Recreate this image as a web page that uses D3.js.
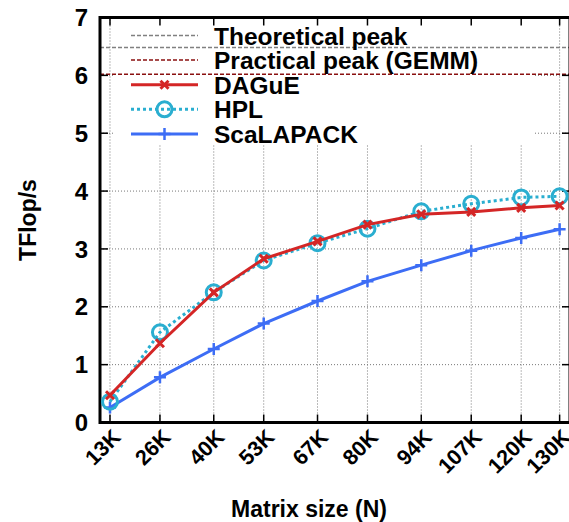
<!DOCTYPE html>
<html>
<head>
<meta charset="utf-8">
<script src="https://cdn.jsdelivr.net/npm/d3@7"></script>
<style>
  html, body { margin: 0; padding: 0; background: #fff; }
  svg { display: block; }
  text { font-family: "Liberation Sans", Arial, Helvetica, sans-serif; font-weight: bold; fill: #000; }
</style>
</head>
<body>
<svg id="chart" width="569" height="522"></svg>
<script>
// Matrix sizes (thousands) and their tick labels
const sizes = [13, 26, 40, 53, 67, 80, 94, 107, 120, 130];
const sizeLabels = ["13K", "26K", "40K", "53K", "67K", "80K", "94K", "107K", "120K", "130K"];

// Performance in TFlop/s
const dague     = [0.47, 1.37, 2.25, 2.83, 3.13, 3.42, 3.60, 3.64, 3.71, 3.75];
const hpl       = [0.36, 1.56, 2.25, 2.80, 3.10, 3.35, 3.65, 3.78, 3.89, 3.91];
const scalapack = [0.26, 0.78, 1.27, 1.71, 2.10, 2.44, 2.72, 2.97, 3.19, 3.34];

// Reference peaks (TFlop/s)
const theoreticalPeak = 6.48;
const practicalPeak = 6.02;

const yTicks = [0, 1, 2, 3, 4, 5, 6, 7];

const svg = d3.select("#chart");
const plotLeft = 100, plotRight = 570, plotTop = 17.5, plotBottom = 422.5;

const x = d3.scaleLinear().domain([10.4, 132.7]).range([plotLeft, plotRight]);
const y = d3.scaleLinear().domain([0, 7]).range([plotBottom, plotTop]);

const colors = { dague: "#d42626", hpl: "#2aaed0", scalapack: "#3d6df5" };

// grid
const grid = svg.append("g").attr("stroke", "#777").attr("stroke-width", 1).attr("stroke-dasharray", "1,2");
sizes.forEach(s => {
  grid.append("line").attr("x1", x(s)).attr("x2", x(s)).attr("y1", plotBottom).attr("y2", plotTop);
});
yTicks.slice(1, -1).forEach(v => {
  grid.append("line").attr("x1", plotLeft).attr("x2", plotRight).attr("y1", y(v)).attr("y2", y(v));
});

// legend background hides grid behind the key
const keyBox = { x0: 115, x1: 533, y0: plotTop + 1, y1: 145 };
svg.append("rect").attr("x", keyBox.x0).attr("y", keyBox.y0)
  .attr("width", keyBox.x1 - keyBox.x0).attr("height", keyBox.y1 - keyBox.y0)
  .attr("fill", "#fff");

// peak lines
svg.append("line").attr("x1", plotLeft).attr("x2", plotRight)
  .attr("y1", y(theoreticalPeak)).attr("y2", y(theoreticalPeak))
  .attr("stroke", "#808080").attr("stroke-width", 1.5).attr("stroke-dasharray", "4,2");
svg.append("line").attr("x1", plotLeft).attr("x2", plotRight)
  .attr("y1", y(practicalPeak)).attr("y2", y(practicalPeak))
  .attr("stroke", "#8a1010").attr("stroke-width", 1.5).attr("stroke-dasharray", "4,2");

// axes: inward ticks on all four sides
const tickLen = 8;
const axisG = svg.append("g").attr("stroke", "#000").attr("stroke-width", 1.5);
sizes.forEach(s => {
  axisG.append("line").attr("x1", x(s)).attr("x2", x(s)).attr("y1", plotBottom).attr("y2", plotBottom - tickLen);
  axisG.append("line").attr("x1", x(s)).attr("x2", x(s)).attr("y1", plotTop).attr("y2", plotTop + tickLen);
});
yTicks.forEach(v => {
  axisG.append("line").attr("x1", plotLeft).attr("x2", plotLeft + tickLen).attr("y1", y(v)).attr("y2", y(v));
  axisG.append("line").attr("x1", plotRight).attr("x2", plotRight - tickLen).attr("y1", y(v)).attr("y2", y(v));
});
svg.append("rect").attr("x", plotLeft).attr("y", plotTop).attr("width", plotRight - plotLeft).attr("height", plotBottom - plotTop)
  .attr("fill", "none").attr("stroke", "#000").attr("stroke-width", 3);

// tick labels
svg.append("g").selectAll("text").data(yTicks).join("text")
  .attr("x", 88).attr("y", d => y(d)).attr("dy", "0.36em")
  .attr("text-anchor", "end").attr("font-size", 24).text(d => d);

svg.append("g").selectAll("text").data(sizes).join("text")
  .attr("transform", d => `translate(${x(d) + 12},${plotBottom + 16}) rotate(-45)`)
  .attr("text-anchor", "end").attr("font-size", 21.5).text((d, i) => sizeLabels[i]);

// axis titles
svg.append("text").attr("transform", `translate(36,220) rotate(-90)`)
  .attr("text-anchor", "middle").attr("font-size", 23).text("TFlop/s");
svg.append("text").attr("x", 309).attr("y", 517)
  .attr("text-anchor", "middle").attr("font-size", 23).text("Matrix size (N)");

// series
const line = d3.line().x(d => x(d[0])).y(d => y(d[1]));
const pts = vals => sizes.map((s, i) => [s, vals[i]]);

function crossMarker(g, cx, cy, color) {
  const r = 4;
  g.append("path").attr("d", `M${cx - r},${cy - r}L${cx + r},${cy + r}M${cx - r},${cy + r}L${cx + r},${cy - r}`)
    .attr("stroke", color).attr("stroke-width", 3).attr("fill", "none");
}
function plusMarker(g, cx, cy, color) {
  const r = 6;
  g.append("path").attr("d", `M${cx - r},${cy}L${cx + r},${cy}M${cx},${cy - r}L${cx},${cy + r}`)
    .attr("stroke", color).attr("stroke-width", 2.5).attr("fill", "none");
}
function circleMarker(g, cx, cy, color) {
  g.append("circle").attr("cx", cx).attr("cy", cy).attr("r", 7.5)
    .attr("stroke", color).attr("stroke-width", 3).attr("fill", "none");
}

const series = [
  { name: "ScaLAPACK", vals: scalapack, color: colors.scalapack, dash: null, marker: plusMarker },
  { name: "HPL", vals: hpl, color: colors.hpl, dash: "3,3", marker: circleMarker },
  { name: "DAGuE", vals: dague, color: colors.dague, dash: null, marker: crossMarker }
];

series.forEach(s => {
  const g = svg.append("g");
  g.append("path").datum(pts(s.vals)).attr("d", line)
    .attr("fill", "none").attr("stroke", s.color).attr("stroke-width", 3)
    .attr("stroke-dasharray", s.dash);
  pts(s.vals).forEach(p => s.marker(g, x(p[0]), y(p[1]), s.color));
});

// key
const keyRows = [
  { label: "Theoretical peak", color: "#808080", width: 1.5, dash: "4,2", marker: null },
  { label: "Practical peak (GEMM)", color: "#8a1010", width: 1.5, dash: "4,2", marker: null },
  { label: "DAGuE", color: colors.dague, width: 3, dash: null, marker: crossMarker },
  { label: "HPL", color: colors.hpl, width: 3, dash: "3,3", marker: circleMarker },
  { label: "ScaLAPACK", color: colors.scalapack, width: 3, dash: null, marker: plusMarker }
];
const key = svg.append("g");
keyRows.forEach((r, i) => {
  const ry = 35.5 + i * 24.6;
  key.append("line").attr("x1", 131).attr("x2", 198).attr("y1", ry).attr("y2", ry)
    .attr("stroke", r.color).attr("stroke-width", r.width).attr("stroke-dasharray", r.dash);
  if (r.marker) r.marker(key, 164.5, ry, r.color);
  key.append("text").attr("x", 214).attr("y", ry + 9).attr("font-size", 24.5).text(r.label);
});
</script>
</body>
</html>
